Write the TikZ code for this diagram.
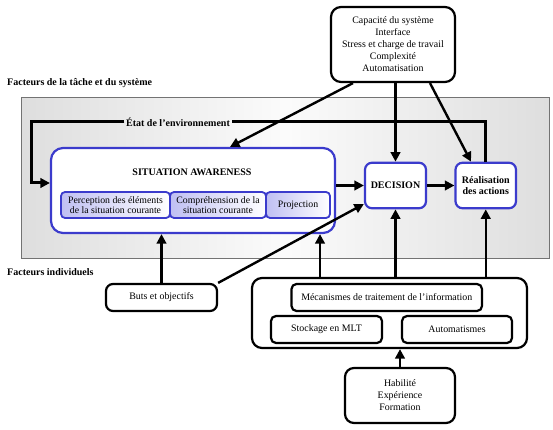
\documentclass[tikz,border=0pt]{standalone}
\usepackage{fontspec}
\setmainfont{Liberation Serif}
\usetikzlibrary{arrows.meta}

\newlength{\du}
\setlength{\du}{1\unitlength}

\definecolor{bleuligne}{rgb}{0.230000, 0.230000, 0.800000}
\definecolor{bleufond}{rgb}{0.750000, 0.750000, 0.950000}
\definecolor{grisfond}{rgb}{0.870000, 0.870000, 0.870000}
\definecolor{grisclair}{rgb}{0.985000, 0.985000, 0.985000}
\definecolor{grisbord}{rgb}{0.450000, 0.450000, 0.450000}

\tikzset{
  texte/.style={font=\fontsize{9.9}{12}\selectfont},
  gras/.style={font=\bfseries\fontsize{10}{11.5}\selectfont},
  noirbox/.style={texte, draw=black, line width=2.2\du, rounded corners=7\du,
    fill=white, inner sep=0pt, align=center},
  bleubox/.style={gras, draw=bleuligne, line width=2.2\du, rounded corners=7\du,
    fill=white, inner sep=0pt, align=center},
  sousbox/.style={font=\fontsize{9.8}{10.5}\selectfont, draw=bleuligne,
    line width=1.8\du, rounded corners=4\du, left color=bleufond,
    right color=white, inner sep=0pt, align=center},
  fleche/.style={line width=2.4\du, -{Triangle[length=9.5pt,width=9.5pt]}},
  grosfleche/.style={fleche, line width=3\du},
}

\begin{document}
\begin{tikzpicture}
\pgftransformxscale{1.000000}
\pgftransformyscale{-1.000000}
\useasboundingbox (0\du,0\du) rectangle (553\du,430\du);

% fond gris
\draw[grisbord, line width=0.8\du, left color=grisfond, right color=grisfond,
  middle color=grisclair] (21\du,97.5\du) rectangle (549.5\du,258.5\du);

% titres
\node[gras, anchor=west, inner sep=0pt] (tache) at (7\du,83\du){Facteurs de la tâche et du système};
\node[gras, anchor=west, inner sep=0pt] (indiv) at (7\du,272\du){Facteurs individuels};

% boites du haut
\node[noirbox, rounded corners=10\du, minimum width=124\du, minimum height=75\du] (capa)
  at (393\du,44.5\du){Capacité du système\\Interface\\Stress et charge de travail\\Complexité\\Automatisation};

\node[bleubox, rounded corners=12\du, minimum width=284\du, minimum height=85\du] (sa) at (193\du,190.5\du){};
\node[gras] (satitre) at (192\du,172\du){SITUATION AWARENESS};
\node[sousbox, minimum width=109\du, minimum height=26\du] (perception)
  at (115.5\du,205\du){Perception des éléments\\de la situation courante};
\node[sousbox, minimum width=96\du, minimum height=26\du] (comprehension)
  at (218\du,205\du){Compréhension de la\\situation courante};
\node[sousbox, minimum width=64\du, minimum height=26\du] (projection)
  at (298\du,205\du){Projection};

\node[bleubox, minimum width=61\du, minimum height=45.5\du] (decision) at (395.5\du,185.5\du){DECISION};
\node[bleubox, minimum width=60.5\du, minimum height=45.5\du] (realisation)
  at (485.75\du,185.5\du){Réalisation\\des actions};

% boites du bas
\node[noirbox, minimum width=111\du, minimum height=27\du] (buts) at (161.5\du,297.5\du){Buts et objectifs};
\node[noirbox, rounded corners=10\du, fill=none, minimum width=275\du, minimum height=70\du] (traitement)
  at (389.5\du,313\du){};
\node[noirbox, rounded corners=5\du, minimum width=190.5\du, minimum height=27\du] (mecanismes)
  at (386.75\du,297.5\du){Mécanismes de traitement de l’information};
\node[noirbox, rounded corners=5\du, minimum width=111\du, minimum height=27\du] (stockage)
  at (326.5\du,329.5\du){Stockage en MLT};
\node[noirbox, rounded corners=5\du, minimum width=110\du, minimum height=27\du] (automatismes)
  at (457\du,329.5\du){Automatismes};
\node[noirbox, rounded corners=9\du, minimum width=110\du, minimum height=55\du] (habilite)
  at (400\du,395.5\du){Habilité\\Expérience\\Formation};

% points de repere
\coordinate (coin) at (31\du,183\du);
\coordinate (yfleche) at (0\du,183\du);
\coordinate (ydiag) at (0\du,204\du);
\coordinate (xa) at (353\du,0\du);
\coordinate (xb) at (230\du,0\du);
\coordinate (xc) at (430\du,0\du);
\coordinate (xd) at (471\du,0\du);
\coordinate (xe) at (320\du,0\du);

% boucle environnement
\node[gras, inner sep=1.5\du] (env) at (178\du,122\du){État de l’environnement};
\draw[line width=3\du] (realisation.north) |- (env.east);
\draw[grosfleche] (env.west) -| (coin) -- (sa.west |- yfleche);

% fleches
\draw[fleche] (capa.south -| xa) -- (sa.north -| xb);
\draw[fleche] (capa.south -| decision.north) -- (decision.north);
\draw[fleche] (capa.south -| xc) -- (realisation.north -| xd);
\draw[grosfleche] (sa.east |- decision.west) -- (decision.west);
\draw[grosfleche] (decision.east) -- (realisation.west);
\draw[fleche] (buts.north) -- (sa.south -| buts.north);
\draw[fleche] (buts.north east) -- (decision.west |- ydiag);
\draw[fleche] (traitement.north -| xe) -- (sa.south -| xe);
\draw[fleche] (traitement.north -| decision.south) -- (decision.south);
\draw[fleche] (traitement.north -| realisation.south) -- (realisation.south);
\draw[fleche] (habilite.north) -- (traitement.south -| habilite.north);
\end{tikzpicture}
\end{document}
